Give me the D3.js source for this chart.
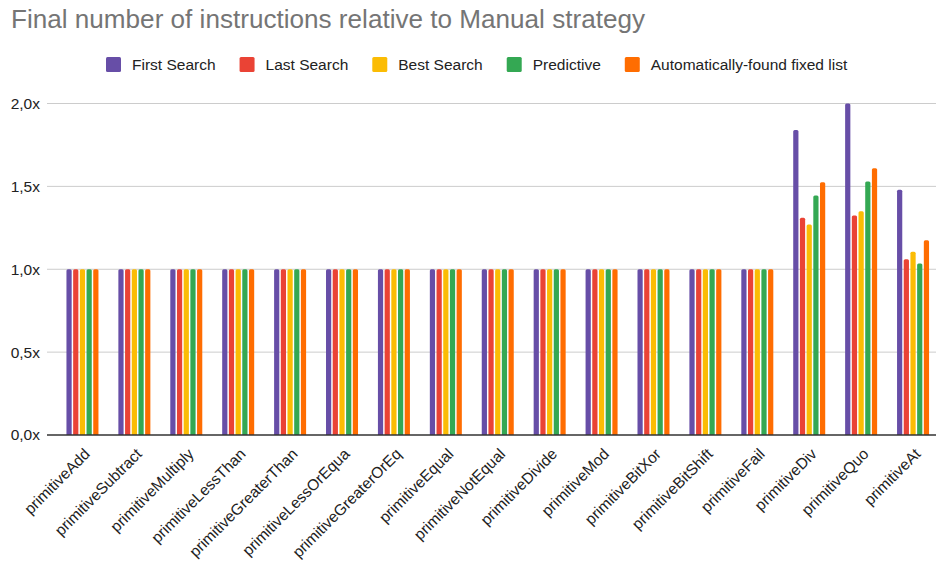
<!DOCTYPE html>
<html>
<head>
<meta charset="utf-8">
<script src="https://cdn.jsdelivr.net/npm/d3@7"></script>
<style>
  body { margin: 0; background: #fff; }
  svg { font-family: "Liberation Sans", Arial, sans-serif; display: block; }
</style>
</head>
<body>
<div id="chart"></div>
<script>
const title = "Final number of instructions relative to Manual strategy";

const categories = [
  "primitiveAdd", "primitiveSubtract", "primitiveMultiply", "primitiveLessThan",
  "primitiveGreaterThan", "primitiveLessOrEqua", "primitiveGreaterOrEq", "primitiveEqual",
  "primitiveNotEqual", "primitiveDivide", "primitiveMod", "primitiveBitXor",
  "primitiveBitShift", "primitiveFail", "primitiveDiv", "primitiveQuo", "primitiveAt"
];

const seriesNames = ["First Search", "Last Search", "Best Search", "Predictive", "Automatically-found fixed list"];
const seriesColors = ["#674ea7", "#ea4335", "#fbbc04", "#34a853", "#ff6d01"];

const firstSearch = [1, 1, 1, 1, 1, 1, 1, 1, 1, 1, 1, 1, 1, 1, 1.84, 2.0, 1.48];
const lastSearch = [1, 1, 1, 1, 1, 1, 1, 1, 1, 1, 1, 1, 1, 1, 1.31, 1.325, 1.06];
const bestSearch = [1, 1, 1, 1, 1, 1, 1, 1, 1, 1, 1, 1, 1, 1, 1.27, 1.35, 1.105];
const predictive = [1, 1, 1, 1, 1, 1, 1, 1, 1, 1, 1, 1, 1, 1, 1.445, 1.53, 1.035];
const autoFixed = [1, 1, 1, 1, 1, 1, 1, 1, 1, 1, 1, 1, 1, 1, 1.525, 1.61, 1.175];

const yTicks = [0, 0.5, 1.0, 1.5, 2.0];

const allSeries = [firstSearch, lastSearch, bestSearch, predictive, autoFixed];

const width = 938, height = 565;
const plot = { left: 47, right: 936, top: 103.5, bottom: 435 };

const svg = d3.select("#chart").append("svg")
  .attr("width", width)
  .attr("height", height);

const titleText = svg.append("text")
  .attr("x", 11)
  .attr("y", 28)
  .attr("font-size", 26)
  .attr("fill", "#757575")
  .text(title);
// stretch to the measured width of the original title
const tw = titleText.node().getComputedTextLength();
titleText.attr("textLength", 634).attr("lengthAdjust", "spacingAndGlyphs");
if (Math.abs(tw - 634) > 40) titleText.attr("textLength", null);

// legend
const legend = svg.append("g");
let lx = 106;
seriesNames.forEach((name, i) => {
  legend.append("rect")
    .attr("x", lx).attr("y", 57)
    .attr("width", 15).attr("height", 15)
    .attr("rx", 1.5)
    .attr("fill", seriesColors[i]);
  const t = legend.append("text")
    .attr("x", lx + 26).attr("y", 70)
    .attr("font-size", 15.5)
    .attr("fill", "#222")
    .text(name);
  lx += 26 + t.node().getComputedTextLength() + 24;
});

const x0 = d3.scaleBand()
  .domain(categories)
  .range([56.5, 939]);

const x1 = d3.scaleBand()
  .domain(d3.range(seriesNames.length))
  .range([0, 32])
  .paddingInner(0.22);

const y = d3.scaleLinear()
  .domain([0, 2])
  .range([plot.bottom, plot.top]);

// gridlines
svg.append("g")
  .selectAll("line")
  .data(yTicks.filter(d => d > 0))
  .join("line")
  .attr("x1", plot.left).attr("x2", plot.right)
  .attr("y1", d => y(d)).attr("y2", d => y(d))
  .attr("stroke", "#cccccc")
  .attr("stroke-width", 1);

// y axis labels
const yAxis = svg.append("g")
  .attr("transform", `translate(${plot.left},0)`)
  .call(d3.axisLeft(y).tickValues(yTicks).tickSize(0).tickPadding(7)
    .tickFormat(d => d3.format(".1f")(d).replace(".", ",") + "x"));
yAxis.select(".domain").remove();
yAxis.selectAll("text")
  .attr("font-size", 15.5)
  .attr("font-family", "Liberation Sans, Arial, sans-serif")
  .attr("fill", "#222");

// bars
const groups = svg.append("g")
  .selectAll("g")
  .data(categories)
  .join("g")
  .attr("transform", d => `translate(${x0(d) + (x0.bandwidth() - 32) / 2},0)`);

groups.selectAll("path")
  .data((d, ci) => allSeries.map((s, si) => ({ si, v: s[ci] })))
  .join("path")
  .attr("fill", d => seriesColors[d.si])
  .attr("d", d => {
    const bx = x1(d.si), bw = x1.bandwidth();
    const top = y(d.v), bot = y(0), r = 1.5;
    return `M${bx},${bot}V${top + r}Q${bx},${top} ${bx + r},${top}H${bx + bw - r}Q${bx + bw},${top} ${bx + bw},${top + r}V${bot}Z`;
  });

// baseline
svg.append("line")
  .attr("x1", plot.left).attr("x2", plot.right)
  .attr("y1", y(0)).attr("y2", y(0))
  .attr("stroke", "#333")
  .attr("stroke-width", 1.5);

// x labels
const xAxis = svg.append("g")
  .attr("transform", `translate(0,${y(0)})`)
  .call(d3.axisBottom(x0).tickSize(0).tickPadding(0));
xAxis.select(".domain").remove();
xAxis.selectAll("text")
  .attr("font-size", 15.5)
  .attr("font-family", "Liberation Sans, Arial, sans-serif")
  .attr("fill", "#222")
  .attr("text-anchor", "end")
  .attr("dy", null)
  .attr("y", 0)
  .attr("transform", "translate(8.5,20) rotate(-45)");
</script>
</body>
</html>
